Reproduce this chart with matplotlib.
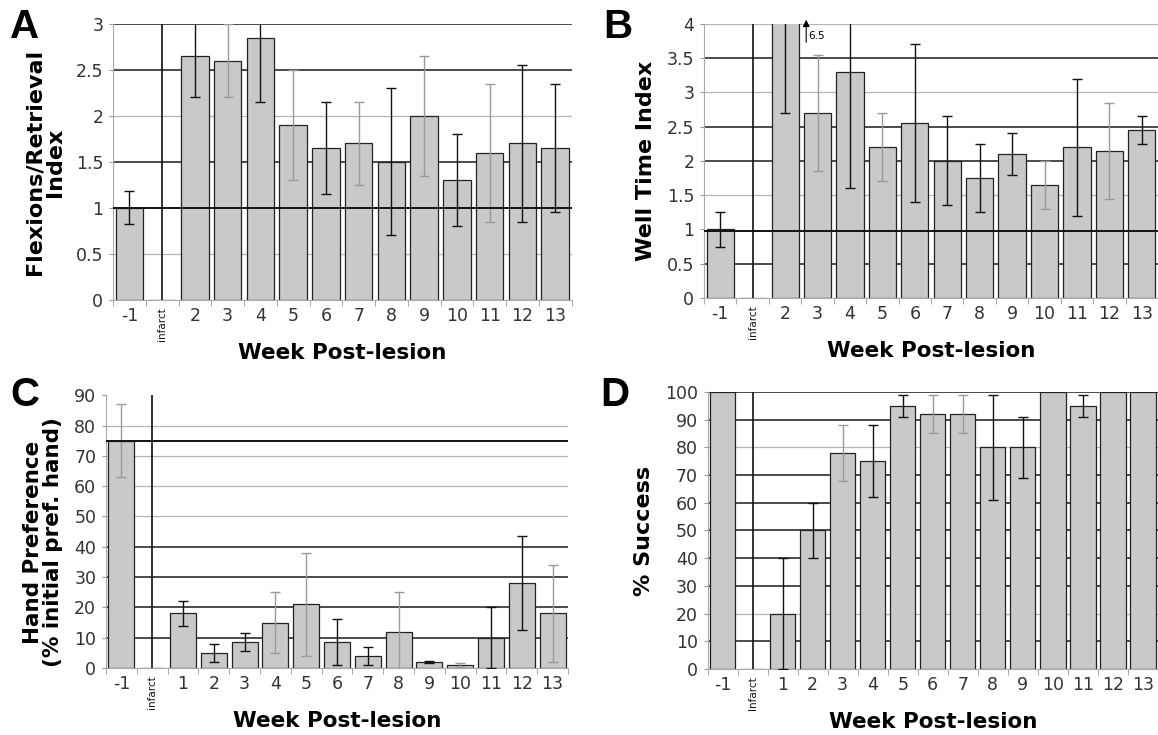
import numpy as np
from matplotlib import pyplot as plt

# ---- data ----
cats_ab = ['-1', 'infarct', '2', '3', '4', '5', '6', '7', '8', '9', '10', '11', '12', '13']
cats_c = ['-1', 'infarct', '1', '2', '3', '4', '5', '6', '7', '8', '9', '10', '11', '12', '13']
cats_d = ['-1', 'Infarct', '1', '2', '3', '4', '5', '6', '7', '8', '9', '10', '11', '12', '13']

flex_val = [1.0, np.nan, 2.65, 2.6, 2.85, 1.9, 1.65, 1.7, 1.5, 2.0, 1.3, 1.6, 1.7, 1.65]
flex_err = [0.18, np.nan, 0.45, 0.4, 0.7, 0.6, 0.5, 0.45, 0.8, 0.65, 0.5, 0.75, 0.85, 0.7]
flex_dark = [1, 0, 1, 0, 1, 0, 1, 0, 1, 0, 1, 0, 1, 1]

well_val = [1.0, np.nan, 6.5, 2.7, 3.3, 2.2, 2.55, 2.0, 1.75, 2.1, 1.65, 2.2, 2.15, 2.45]
well_err = [0.25, np.nan, 3.8, 0.85, 1.7, 0.5, 1.15, 0.65, 0.5, 0.3, 0.35, 1.0, 0.7, 0.2]
well_dark = [1, 0, 1, 0, 1, 0, 1, 1, 1, 1, 0, 1, 0, 1]

hand_val = [75, np.nan, 18, 5, 8.5, 15, 21, 8.5, 4, 12, 2, 1, 10, 28, 18]
hand_err = [12, np.nan, 4, 3, 3, 10, 17, 7.5, 3, 13, 0.3, 0.8, 10, 15.5, 16]
hand_dark = [0, 0, 1, 1, 1, 0, 0, 1, 1, 0, 1, 0, 1, 1, 0]

succ_val = [100, np.nan, 20, 50, 78, 75, 95, 92, 92, 80, 80, 100, 95, 100, 100]
succ_err = [np.nan, np.nan, 20, 10, 10, 13, 4, 7, 7, 19, 11, np.nan, 4, np.nan, np.nan]
succ_dark = [1, 0, 1, 1, 0, 1, 1, 0, 0, 1, 1, 1, 1, 1, 1]

BAR = '#c9c9c9'
DARK = '#111111'
LIGHT = '#9a9a9a'

plt.rcParams['font.family'] = 'DejaVu Sans'


def panel(ax, cats, vals, errs, dark, ymax, yticks, grid_dark, grid_light,
          ylabel, over_lines=(), ylabel_size=16):
    x = np.arange(len(cats))
    vals = np.array(vals, float)
    errs = np.array(errs, float)
    for g in grid_light:
        ax.axhline(g, color='#b5b5b5', lw=0.9, zorder=0)
    for g in grid_dark:
        ax.axhline(g, color='#1a1a1a', lw=1.1, zorder=0)
    ax.axvline(1, color='#111111', lw=1.2, zorder=0)
    ax.bar(x, np.nan_to_num(vals), width=0.84, color=BAR, edgecolor='#222222',
           lw=0.9, zorder=2)
    dark = np.array(dark, bool)
    for sel, col in ((dark, DARK), (~dark, LIGHT)):
        m = sel & ~np.isnan(errs)
        ax.errorbar(x[m], vals[m], yerr=errs[m], fmt='none', ecolor=col,
                    elinewidth=1.0, capsize=3.5, capthick=1.0, zorder=3)
    for g in over_lines:
        ax.axhline(g, color='#111111', lw=1.4, zorder=4)
    ax.set_xlim(-0.5, len(cats) - 0.5)
    ax.set_ylim(0, ymax)
    ax.set_yticks(yticks)
    ax.set_yticklabels([f'{t:g}' for t in yticks], fontsize=12.5, color='#333333')
    ax.set_xticks(x)
    ax.set_xticklabels(cats, fontsize=12.5, color='#333333')
    for lab in ax.get_xticklabels():
        if lab.get_text().lower() == 'infarct':
            lab.set_rotation(90)
            lab.set_fontsize(7.5)
            lab.set_color('#111111')
    ax.set_xticks(np.arange(len(cats) + 1) - 0.5, minor=True)
    ax.tick_params(axis='x', which='major', length=0, pad=5)
    ax.tick_params(axis='x', which='minor', length=4, color='#999999')
    ax.tick_params(axis='y', length=3, color='#999999', pad=4)
    for s in ('top', 'right'):
        ax.spines[s].set_visible(False)
    for s in ('left', 'bottom'):
        ax.spines[s].set_color('#aaaaaa')
    ax.set_xlabel('Week Post-lesion', fontsize=15.5, fontweight='bold', labelpad=2)
    ax.set_ylabel(ylabel, fontsize=ylabel_size, fontweight='bold', labelpad=8,
                  linespacing=1.0)


fig = plt.figure(figsize=(11.58, 7.35), dpi=100)
axA = fig.add_axes([0.0976, 0.592, 0.396, 0.3755])
axB = fig.add_axes([0.608, 0.5946, 0.392, 0.373])
axC = fig.add_axes([0.0915, 0.0912, 0.399, 0.371])
axD = fig.add_axes([0.611, 0.0898, 0.389, 0.377])

panel(axA, cats_ab, flex_val, flex_err, flex_dark, 3, np.arange(0, 3.01, 0.5),
      [3, 2.5, 1.5], [2, 0.5], 'Flexions/Retrieval\nIndex', over_lines=[1.0])
panel(axB, cats_ab, well_val, well_err, well_dark, 4, np.arange(0, 4.01, 0.5),
      [3.5, 2.5, 2, 0.5], [4, 3, 1.5], 'Well Time Index', over_lines=[0.97])
axB.annotate('', xy=(2.65, 4.1), xytext=(2.65, 3.69),
             arrowprops=dict(arrowstyle='-|>', color='black', lw=0.8,
                             mutation_scale=10), annotation_clip=False)
axB.text(2.72, 3.82, '6.5', fontsize=7.5, va='center', ha='left')
panel(axC, cats_c, hand_val, hand_err, hand_dark, 90, np.arange(0, 91, 10),
      [40, 30, 20, 10], [70, 60, 50, 80], 'Hand Preference\n(% initial pref. hand)',
      over_lines=[75], ylabel_size=15.5)
axC.yaxis.set_label_coords(-0.094, 0.46)
panel(axD, cats_d, succ_val, succ_err, succ_dark, 100, np.arange(0, 101, 10),
      [100, 90, 70, 60, 50, 40, 30, 10], [80, 20], '% Success')

# panel letters
for lx, ly, s in ((10, 8, 'A'), (603, 8, 'B'), (10, 376, 'C'), (600, 376, 'D')):
    fig.text(lx / 1158, 1 - ly / 735, s, fontsize=29, fontweight='bold',
             family='Liberation Sans', va='top', ha='left')

fig.savefig('out.png', dpi=100, facecolor='white')
